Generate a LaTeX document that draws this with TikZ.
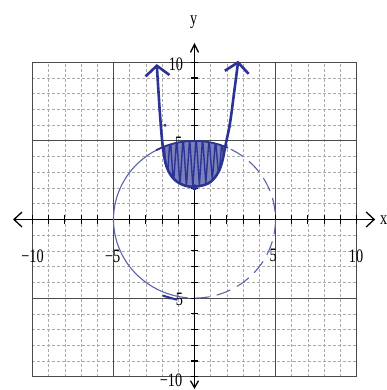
\documentclass[tikz,border=0pt]{standalone}
\usepackage{fontspec}
\setmainfont{Liberation Serif}
\usetikzlibrary{arrows.meta}
\definecolor{ink}{HTML}{2B3493}
\definecolor{pencil}{HTML}{5A62AC}
\definecolor{gridminor}{HTML}{ABABAB}
\definecolor{gridmajor}{HTML}{4A4A4A}
\begin{document}
\begin{tikzpicture}[x=16.2pt, y=15.72pt,
  minorgrid/.style={draw=gridminor, line width=0.6pt, dash pattern=on 3pt off 2pt},
  majorgrid/.style={draw=gridmajor, line width=1pt},
  axisline/.style={draw=black, line width=1.3pt},
  tickmark/.style={draw=black, line width=1.1pt},
  lab/.style={font=\fontsize{19}{19}\selectfont, xscale=0.75, inner sep=0pt},
  curve/.style={draw=ink, line width=2.6pt, line cap=round, line join=round},
  circ/.style={draw=pencil, line width=1.1pt, line cap=round}]
\useasboundingbox (-12.006,-10.846) rectangle (11.821,13.963);
\fill[white] (-12.006,-10.846) rectangle (11.821,13.963);
% grid
\foreach \i in {-9,-8,-7,-6,-4,-3,-2,-1,1,2,3,4,6,7,8,9} {
  \draw[minorgrid] (\i,-10) -- (\i,10);
  \draw[minorgrid] (-10,\i) -- (10,\i);
}
\foreach \i in {-10,-5,5,10} {
  \draw[majorgrid] (\i,-10) -- (\i,10);
  \draw[majorgrid] (-10,\i) -- (10,\i);
}
% axes
\coordinate (xl) at (-11.2,0);
\coordinate (xr) at (11.15,0);
\coordinate (yb) at (0,-10.78);
\coordinate (yt) at (0,11.23);
\draw[axisline, {Straight Barb[length=8pt,width=15pt]}-{Straight Barb[length=8pt,width=15pt]}] (xl) -- (xr);
\draw[axisline, {Straight Barb[length=7pt,width=8pt]}-{Straight Barb[length=8pt,width=8pt]}] (yb) -- (yt);
\foreach \i in {-10,...,10} {
  \draw[tickmark] (\i,-0.3) -- (\i,0.3);
  \draw[tickmark] (-0.24,\i) -- (0.24,\i);
}
% labels
\node[lab] (xm10) at (-10,-2.35) {−10};
\node[lab] (xm5) at (-5.05,-2.35) {−5};
\node[lab] (xp5) at (4.85,-2.3) {5};
\node[lab] (xp10) at (9.97,-2.35) {10};
\node[lab, anchor=east] (yp10) at (-0.7,9.85) {10};
\node[lab, anchor=east] (yp5) at (-0.75,4.87) {5};
\node[lab, anchor=east] (ym5) at (-0.7,-5.05) {−5};
\node[lab, anchor=east] (ym10) at (-0.75,-10.2) {−10};
\node[lab] (ylab) at (-0.05,12.57) {y};
\node[lab, anchor=west] (xlab) at (11.45,-0.05) {x};
% circle
\draw[circ] plot[smooth, domain=105:255, samples=60] ({5*cos(\x)},{5*sin(\x)});
\draw[circ, dash pattern=on 14pt off 8pt] plot[smooth, domain=255:465, samples=90] ({5*cos(\x)},{5*sin(\x)});
\draw[ink, line width=2pt, line cap=round] (-1.93,-4.85) -- (-1.1,-5.1);
% shaded region
\begin{scope}
  \clip plot[smooth, tension=0.6] coordinates {(-2.33,9.89) (-2.23,8.24) (-2.09,6.12) (-1.93,4.42) (-1.72,3.36) (-1.31,2.62) (-0.69,2.19) (0.03,2.09) (0.85,2.3) (1.37,2.83) (1.68,3.57) (1.94,4.85) (2.19,6.12) (2.44,8.03) (2.70,10.1)} -- cycle;
  \clip plot[smooth, domain=0:360, samples=120] ({5*cos(\x)},{5*sin(\x)}) -- cycle;
  \fill[ink!62] (-3,1) rectangle (3,6);
  \draw[ink, line width=1.4pt, line join=round] (-2.1,2.4) -- (-1.9,5.2) -- (-1.7,2.3) -- (-1.5,5.3) -- (-1.3,2.2) -- (-1.1,5.2) -- (-0.9,2.1) -- (-0.7,5.3) -- (-0.5,2.1) -- (-0.3,5.2) -- (-0.1,2.1) -- (0.1,5.3) -- (0.3,2.2) -- (0.5,5.2) -- (0.7,2.3) -- (0.9,5.2) -- (1.1,2.5) -- (1.3,5.1) -- (1.5,2.6) -- (1.7,5.1) -- (1.9,2.8);
\end{scope}
\draw[ink, line width=1.8pt, line cap=round] plot[smooth, domain=118:66, samples=30] ({5*cos(\x)},{5*sin(\x)});
% parabola
\draw[curve, {Straight Barb[length=10pt,width=24pt]}-{Straight Barb[length=10pt,width=24pt]}] plot[smooth, tension=0.6] coordinates {(-2.33,9.89) (-2.23,8.24) (-2.09,6.12) (-1.93,4.42) (-1.72,3.36) (-1.31,2.62) (-0.69,2.19) (0.03,2.09) (0.85,2.3) (1.37,2.83) (1.68,3.57) (1.94,4.85) (2.19,6.12) (2.44,8.03) (2.70,10.1)};
\fill[ink] (0,2.05) circle [radius=3pt];
\fill[ink] (-1.82,6.0) circle [radius=1.6pt];
\fill[ink] (2.19,5.95) circle [radius=1.6pt];
\end{tikzpicture}
\end{document}
